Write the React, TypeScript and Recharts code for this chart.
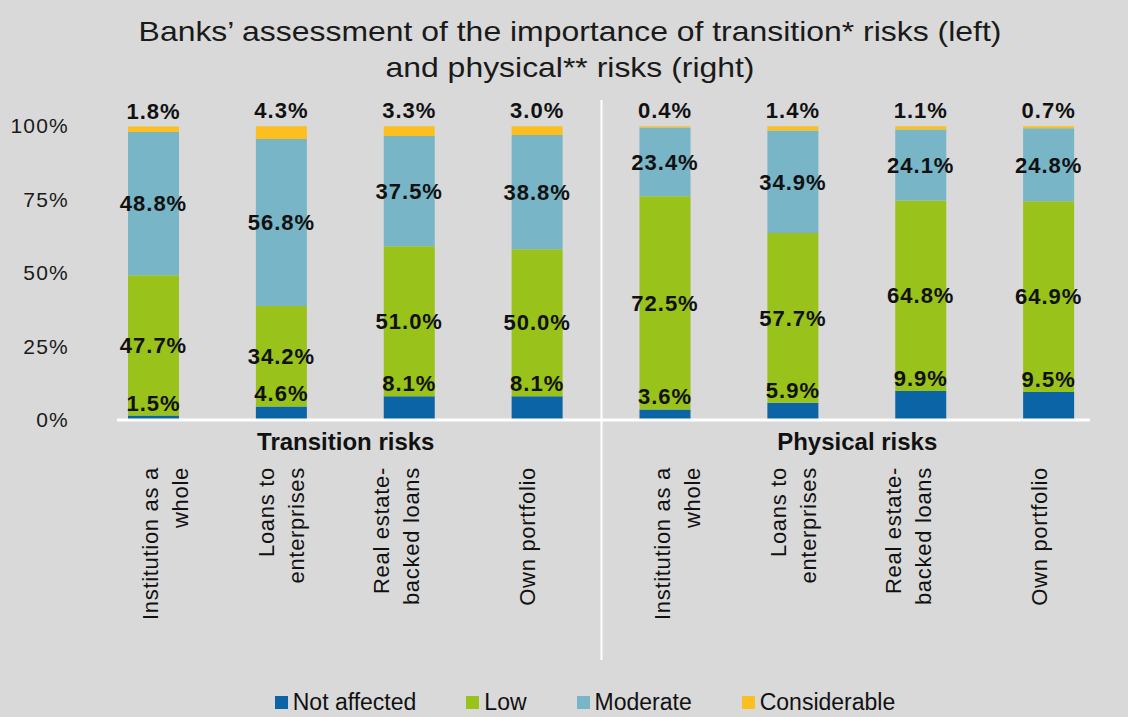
import React from 'react';
import {
  BarChart,
  Bar,
  XAxis,
  YAxis,
  Legend,
  LabelList,
  ReferenceLine,
} from 'recharts';

// categories (8 bars: 4 transition + 4 physical)
const categoryKeys = ['T-inst', 'T-loans', 'T-re', 'T-own', 'P-inst', 'P-loans', 'P-re', 'P-own'];
const categoryLabels = [
  ['Institution as a', 'whole'],
  ['Loans to', 'enterprises'],
  ['Real estate-', 'backed loans'],
  ['Own portfolio'],
  ['Institution as a', 'whole'],
  ['Loans to', 'enterprises'],
  ['Real estate-', 'backed loans'],
  ['Own portfolio'],
];
const groupLabels = ['Transition risks', 'Physical risks'];

const notAffected = [1.5, 4.6, 8.1, 8.1, 3.6, 5.9, 9.9, 9.5];
const low = [47.7, 34.2, 51.0, 50.0, 72.5, 57.7, 64.8, 64.9];
const moderate = [48.8, 56.8, 37.5, 38.8, 23.4, 34.9, 24.1, 24.8];
const considerable = [1.8, 4.3, 3.3, 3.0, 0.4, 1.4, 1.1, 0.7];

const yTicks = [0, 25, 50, 75, 100];

const seriesNames = ['Not affected', 'Low', 'Moderate', 'Considerable'];
const COLORS = ['#0b64a5', '#99c21a', '#77b5c7', '#fbc020'];

const FONT = '"Liberation Sans", Arial, sans-serif';
const BG = '#d9d9d9';
const W = 1128;
const H = 717;
const TOP = 126;
const PLOT_BOTTOM = 420;
const Y_AXIS_W = 90;
const RIGHT = 15;
const BAND = (W - Y_AXIS_W - RIGHT) / categoryKeys.length;
// the rotated labels are not quite centred under their bars (as in the original)
const TICK_NUDGE = [12, 0, -13, -10];

const data = categoryKeys.map((key, i) => ({
  key,
  notAffected: notAffected[i],
  low: low[i],
  moderate: moderate[i],
  considerable: considerable[i],
}));

const pct = (v: any) => `${Number(v).toFixed(1)}%`;

function CategoryTick(props: any) {
  const { x, payload } = props;
  const idx = categoryKeys.indexOf(payload.value);
  const lines = categoryLabels[idx] || [];
  const gap = 30;
  const top = PLOT_BOTTOM + 47;
  const cx = x + TICK_NUDGE[idx % 4];
  return (
    <g>
      {(idx === 1 || idx === 5) && (
        <text
          x={x + BAND / 2}
          y={PLOT_BOTTOM + 21}
          textAnchor="middle"
          dominantBaseline="central"
          fontFamily={FONT}
          fontSize={24}
          fontWeight="bold"
          fill="#111"
        >
          {groupLabels[idx === 1 ? 0 : 1]}
        </text>
      )}
      {lines.map((line, i) => {
        const lx = cx + (i - (lines.length - 1) / 2) * gap;
        return (
          <text
            key={i}
            x={lx}
            y={top}
            transform={`rotate(-90 ${lx} ${top})`}
            textAnchor="end"
            dominantBaseline="central"
            fontFamily={FONT}
            fontSize={22}
            letterSpacing={0.7}
            fill="#111"
          >
            {line}
          </text>
        );
      })}
    </g>
  );
}

function LegendContent() {
  return (
    <div
      style={{
        display: 'flex',
        justifyContent: 'center',
        gap: 50,
        fontFamily: FONT,
        fontSize: 23,
        lineHeight: '26px',
        color: '#111',
        paddingLeft: 42,
      }}
    >
      {seriesNames.map((name, i) => (
        <div key={name} style={{ display: 'flex', alignItems: 'center' }}>
          <span style={{ width: 13, height: 13, background: COLORS[i], marginRight: 5 }} />
          <span>{name}</span>
        </div>
      ))}
    </div>
  );
}

export default function App() {
  const labelStyle = { fontFamily: FONT, fontSize: 22, fontWeight: 'bold', fill: '#111', letterSpacing: 1 };
  return (
    <div style={{ position: 'absolute', left: 0, top: 0, width: W, height: H, background: BG, overflow: 'hidden' }}>
      <div
        style={{
          position: 'absolute',
          top: 14,
          left: 6,
          width: W,
          textAlign: 'center',
          fontFamily: FONT,
          fontSize: 28,
          lineHeight: '36px',
          color: '#1a1a1a',
          transform: 'scaleX(1.14)',
          transformOrigin: '564px 0',
        }}
      >
        Banks’ assessment of the importance of transition* risks (left)
        <br />
        and physical** risks (right)
      </div>
      <div style={{ position: 'absolute', left: 0, top: 0 }}>
        <BarChart
          width={W}
          height={H}
          data={data}
          margin={{ top: TOP, right: RIGHT, bottom: 0, left: 0 }}
          barSize={51}
        >
          <XAxis
            dataKey="key"
            interval={0}
            axisLine={false}
            tickLine={false}
            height={H - PLOT_BOTTOM}
            tick={<CategoryTick />}
          />
          <YAxis
            width={Y_AXIS_W}
            domain={[0, 100]}
            ticks={yTicks}
            axisLine={false}
            tickLine={false}
            tickMargin={15}
            tickFormatter={(v) => `${v}%`}
            tick={{ fontFamily: FONT, fontSize: 21, fill: '#1a1a1a', letterSpacing: 1.2 }}
          />
          <Legend
            verticalAlign="middle"
            layout="horizontal"
            wrapperStyle={{ top: 689, left: 0, width: W }}
            content={<LegendContent />}
          />
          <Bar dataKey="notAffected" stackId="a" fill={COLORS[0]} isAnimationActive={false}>
            <LabelList dataKey="notAffected" position="top" offset={5} formatter={pct} style={labelStyle} />
          </Bar>
          <Bar dataKey="low" stackId="a" fill={COLORS[1]} isAnimationActive={false}>
            <LabelList dataKey="low" position="center" formatter={pct} style={labelStyle} />
          </Bar>
          <Bar dataKey="moderate" stackId="a" fill={COLORS[2]} isAnimationActive={false}>
            <LabelList dataKey="moderate" position="center" formatter={pct} style={labelStyle} />
          </Bar>
          <Bar dataKey="considerable" stackId="a" fill={COLORS[3]} isAnimationActive={false}>
            <LabelList dataKey="considerable" position="top" offset={8} formatter={pct} style={labelStyle} />
          </Bar>
          <ReferenceLine
            y={0}
            shape={(p: any) => (
              <line x1={p.x1 + 27} x2={p.x2 - 23} y1={p.y1} y2={p.y2} stroke="#ffffff" strokeWidth={3} />
            )}
          />
          <ReferenceLine
            x={categoryKeys[4]}
            position="start"
            shape={(p: any) => (
              <line
                x1={p.x1}
                x2={p.x2}
                y1={Math.min(p.y1, p.y2) - 26}
                y2={Math.max(p.y1, p.y2) + 240}
                stroke="#ffffff"
                strokeWidth={2}
              />
            )}
          />
        </BarChart>
      </div>
    </div>
  );
}
